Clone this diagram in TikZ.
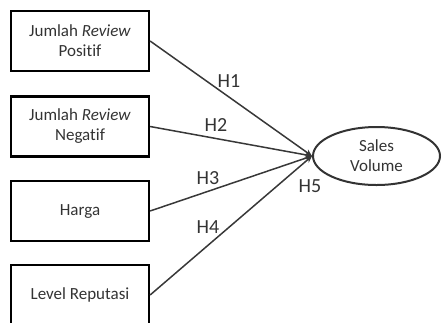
\documentclass[tikz,border=0pt]{standalone}
\usepackage{fontspec}
\setmainfont{Carlito}[Ligatures=NoCommon]
\usepackage{xcolor}
\usetikzlibrary{arrows.meta, shapes.geometric}

\begin{document}
\begin{tikzpicture}[x=1pt, y=-1pt, >={Stealth[length=7pt, width=6pt]},
    every node/.style={font=\fontsize{17}{20}\selectfont, text=black!80},
    varbox/.style={draw=black, line width=2.2pt, align=center, minimum width=138pt, minimum height=60pt, inner sep=0pt},
    hyp/.style={font=\fontsize{20}{22}\selectfont},
    link/.style={->, draw=black!78, line width=1.5pt}]
  \useasboundingbox (0,0) rectangle (446,322);
  \node[varbox] (pos) at (80,41) {Jumlah \textit{Review}\\Positif};
  \node[varbox] (neg) at (80,126.5) {Jumlah \textit{Review}\\Negatif};
  \node[varbox] (harga) at (80,211) {Harga};
  \node[varbox] (rep) at (80,295) {Level Reputasi};
  \node[draw=black!80, line width=2pt, ellipse, align=center, minimum width=127pt, minimum height=58pt, inner sep=0pt] (sales) at (376.5,156) {Sales\\Volume};
  \draw[link] (pos.east) -- (sales.west);
  \draw[link] (neg.east) -- (sales.west);
  \draw[link] (harga.east) -- (sales.west);
  \draw[link] (rep.east) -- (sales.west);
  \node[hyp] (h1) at (229,81) {H1};
  \node[hyp] (h2) at (216,125) {H2};
  \node[hyp] (h3) at (208,178) {H3};
  \node[hyp] (h4) at (208,227) {H4};
  \node[hyp] (h5) at (310,186) {H5};
\end{tikzpicture}
\end{document}
